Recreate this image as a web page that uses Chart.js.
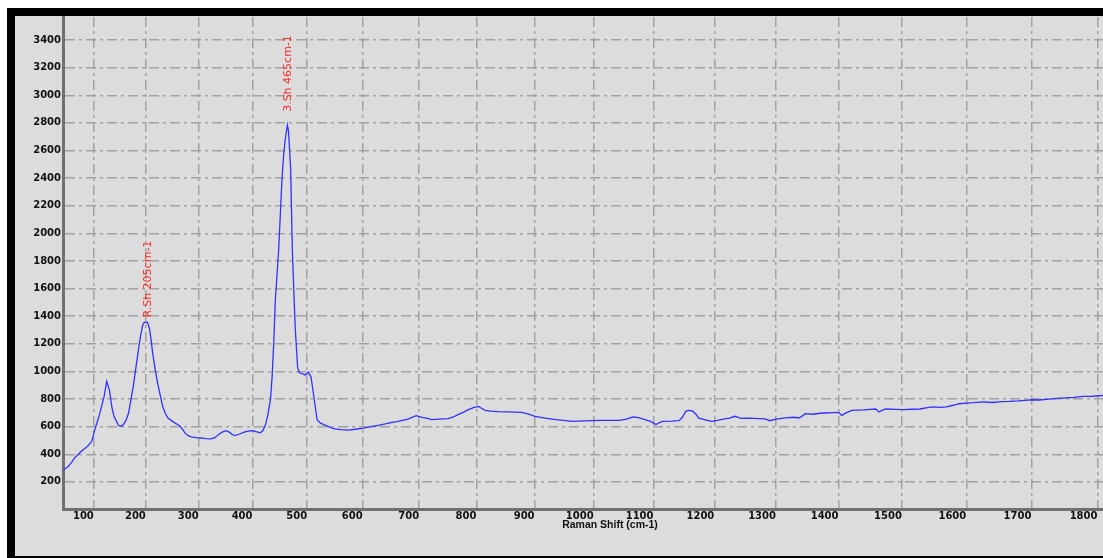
<!DOCTYPE html>
<html>
<head>
<meta charset="utf-8">
<script src="https://cdn.jsdelivr.net/npm/chart.js@4"></script>
<style>
    html, body { margin: 0; padding: 0; background: #fff; overflow: hidden; width: 1103px; height: 558px; }
    #frame {
        position: absolute; left: 7px; top: 8px; width: 1200px; height: 550px; box-sizing: border-box;
        background: #dcdcdc; border-left: 8px solid #000; border-top: 8px solid #000; border-bottom: 2px solid #000;
    }
    #spectrum { position: absolute; left: 0; top: 0; }
</style>
</head>
<body>
<div id="frame"></div>
<canvas id="spectrum" width="1157" height="558"></canvas>
<script>
// Raman shift (cm-1) and intensity
const shifts = [40, 43, 50, 56, 62, 69, 75, 80, 88, 96, 102, 111, 120, 125, 130, 135, 139, 148, 153, 157,
    162, 167, 176, 185, 190, 194, 197, 203, 207, 210, 213, 218, 223, 232, 237, 242, 250, 255, 264, 268,
    274, 280, 286, 295, 304, 313, 323, 330, 339, 345, 351, 357, 362, 367, 375, 386, 393, 399, 405, 414,
    419, 424, 428, 433, 436, 439, 442, 445, 448, 451, 454, 457, 460, 464, 466, 467, 470, 473, 476, 478.5,
    482.7, 486, 490, 496, 502, 507, 512, 518, 524, 530, 540, 548, 560, 575, 590, 602, 615, 628, 640, 650,
    663, 680, 695, 705, 715, 722, 735, 751, 760, 768, 778, 786, 795, 803, 808, 815, 825, 838, 855, 878,
    890, 901, 918, 936, 950, 964, 985, 1010, 1025, 1043, 1055, 1066, 1075, 1082, 1095, 1104, 1110, 1115, 1130, 1142,
    1148, 1153, 1158, 1164, 1170, 1174, 1185, 1196, 1205, 1217, 1225, 1233, 1240, 1244, 1255, 1265, 1282, 1290, 1300, 1315,
    1330, 1337, 1343, 1347, 1360, 1370, 1379, 1390, 1400, 1405, 1412, 1421, 1440, 1459, 1464, 1470, 1475, 1490, 1502, 1515,
    1528, 1540, 1548, 1560, 1569, 1580, 1589, 1599, 1612, 1625, 1640, 1655, 1666, 1680, 1690, 1700, 1712, 1726, 1740, 1752,
    1765, 1777, 1790, 1803, 1810];
const intensity = [285, 292, 312, 337, 370, 397, 418, 434, 458, 494, 578, 687, 819, 928, 868, 740, 675, 607, 603, 615,
    645, 699, 892, 1133, 1260, 1335, 1355, 1356, 1310, 1230, 1133, 1010, 904, 747, 695, 663, 640, 627, 607, 590,
    555, 535, 526, 520, 518, 514, 511, 520, 549, 562, 571, 560, 545, 535, 545, 562, 568, 571, 566, 555,
    570, 615, 680, 795, 960, 1206, 1519, 1700, 1880, 2130, 2387, 2560, 2680, 2785, 2740, 2676, 2459, 1880, 1550, 1300,
    1025, 990, 985, 975, 995, 960, 820, 650, 625, 615, 598, 585, 578, 575, 583, 590, 600, 610, 620, 630,
    638, 655, 680, 668, 660, 651, 655, 658, 670, 687, 705, 723, 738, 747, 735, 718, 712, 709, 707, 704,
    690, 675, 662, 651, 645, 638, 642, 646, 645, 646, 655, 670, 665, 656, 638, 615, 630, 638, 640, 643,
    670, 711, 718, 714, 690, 663, 650, 638, 645, 656, 662, 675, 665, 660, 662, 660, 656, 643, 655, 663,
    668, 663, 680, 694, 690, 697, 699, 702, 704, 682, 700, 718, 722, 728, 706, 722, 728, 725, 723, 726,
    728, 738, 743, 740, 743, 755, 766, 771, 774, 779, 775, 782, 783, 786, 790, 795, 793, 800, 805, 808,
    812, 819, 820, 824, 826];

const xTicks = [100, 200, 300, 400, 500, 600, 700, 800, 900, 1000, 1100, 1200, 1300, 1400, 1500, 1600, 1700, 1800];
const yTicks = [200, 400, 600, 800, 1000, 1200, 1400, 1600, 1800, 2000, 2200, 2400, 2600, 2800, 3000, 3200, 3400];

const peakLabels = ['R.Sh 205cm-1', '3.Sh 465cm-1'];
const peakShifts = [205, 465];
const peakLabelBase = [1390, 2880];

// the instrument's shift axis is not linear: spacing grows toward high shifts
const K = 8.64e-5;
const warp = v => v + K * v * v;

class WarpScale extends Chart.LinearScale {
    getPixelForValue(value) {
        const a = warp(this.min), b = warp(this.max);
        return this.getPixelForDecimal((warp(value) - a) / (b - a));
    }
    getValueForPixel(pixel) {
        const a = warp(this.min), b = warp(this.max);
        const t = a + this.getDecimalForPixel(pixel) * (b - a);
        return (-1 + Math.sqrt(1 + 4 * K * t)) / (2 * K);
    }
}
WarpScale.id = 'warped';
WarpScale.defaults = Chart.LinearScale.defaults;
Chart.register(WarpScale);

const peakLabelPlugin = {
    id: 'peakLabels',
    afterDatasetsDraw(chart) {
        const { ctx, scales: { x, y } } = chart;
        ctx.save();
        ctx.fillStyle = '#ff2b2b';
        ctx.font = '11px "DejaVu Sans"';
        ctx.textBaseline = 'middle';
        ctx.textAlign = 'left';
        peakLabels.forEach((text, i) => {
            ctx.save();
            ctx.translate(x.getPixelForValue(peakShifts[i]), y.getPixelForValue(peakLabelBase[i]));
            ctx.rotate(-Math.PI / 2);
            ctx.fillText(text, 0, 0);
            ctx.restore();
        });
        ctx.restore();
    }
};

const tickFont = { family: '"DejaVu Sans"', size: 10, weight: 'bold' };
const gridStyle = { color: '#a2a2a2', lineWidth: 1.5, drawTicks: false };
const axisBorder = { color: '#707070', width: 3, dash: [10, 4, 3, 4] };

const ctx = document.getElementById('spectrum').getContext('2d');
const chart = new Chart(ctx, {
    type: 'line',
    data: {
        datasets: [{
            data: shifts.map((s, i) => ({ x: s, y: intensity[i] })),
            borderColor: '#3030ff',
            borderWidth: 1.3,
            pointRadius: 0,
            tension: 0,
            fill: false
        }]
    },
    options: {
        responsive: false,
        animation: false,
        events: [],
        layout: { padding: { top: 17, left: 0, right: 0, bottom: 0 } },
        plugins: { legend: { display: false }, tooltip: { enabled: false } },
        scales: {
            x: {
                type: 'warped',
                min: 40,
                max: 1889,
                afterBuildTicks: scale => { scale.ticks = xTicks.map(v => ({ value: v })); },
                afterFit: scale => { scale.height = 48.5; },
                ticks: {
                    autoSkip: false, maxRotation: 0, align: 'end', padding: 1,
                    color: '#111', font: tickFont, callback: v => String(v)
                },
                grid: gridStyle,
                border: axisBorder,
                title: {
                    display: true,
                    text: 'Raman Shift (cm-1)',
                    color: '#111',
                    font: { family: '"Liberation Sans"', size: 10.5, weight: 'bold' },
                    padding: { top: 0, bottom: 26.5 }
                }
            },
            y: {
                min: 0,
                max: 3567,
                afterBuildTicks: scale => { scale.ticks = yTicks.map(v => ({ value: v })); },
                afterFit: scale => { scale.width = 63; },
                ticks: { padding: 2, color: '#111', font: tickFont, callback: v => String(v) },
                grid: gridStyle,
                border: axisBorder
            }
        }
    },
    plugins: [peakLabelPlugin]
});
</script>
</body>
</html>
